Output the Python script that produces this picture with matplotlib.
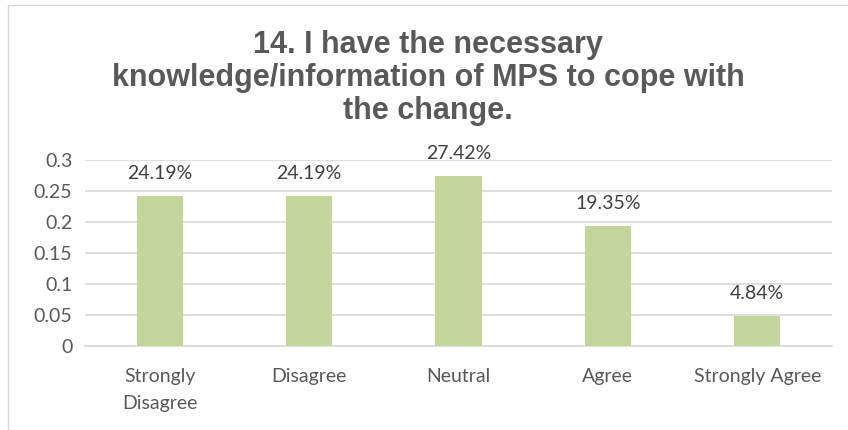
import matplotlib
matplotlib.use("Agg")
import matplotlib.pyplot as plt
from matplotlib.patches import Rectangle

categories = ["Strongly\nDisagree", "Disagree", "Neutral", "Agree", "Strongly Agree"]
values = [0.2419, 0.2419, 0.2742, 0.1935, 0.0484]
value_labels = ["24.19%", "24.19%", "27.42%", "19.35%", "4.84%"]
yticks = [0, 0.05, 0.1, 0.15, 0.2, 0.25, 0.3]
ytick_labels = ["0", "0.05", "0.1", "0.15", "0.2", "0.25", "0.3"]
title = "14. I have the necessary\nknowledge/information of MPS to cope with\nthe change."

text_color = "#595959"
grid_color = "#D9D9D9"
bar_color = "#C3D69B"
label_font = ["Lato", "DejaVu Sans"]

fig = plt.figure(figsize=(8.48, 4.30), dpi=100)
fig.patches.append(Rectangle((8 / 848, 0), 1, 1 - 5 / 430, transform=fig.transFigure,
                             fill=False, edgecolor=grid_color, linewidth=1.0))

ax = fig.add_axes([85 / 848, (430 - 346) / 430, (832 - 85) / 848, (346 - 160) / 430])
x = list(range(len(categories)))
bars = ax.bar(x, values, width=0.31, color=bar_color, zorder=3)

for b, lab in zip(bars, value_labels):
    ax.annotate(lab, (b.get_x() + b.get_width() / 2, b.get_height()),
                xytext=(0, 10), textcoords="offset points", ha="center", va="bottom",
                fontsize=14, color="#404040", family=label_font, annotation_clip=False)

ax.set_xlim(-0.5, len(categories) - 0.5)
ax.set_ylim(0, 0.3)
ax.set_yticks(yticks)
ax.set_yticklabels(ytick_labels)
ax.set_xticks(x)
ax.set_xticklabels(categories)
ax.yaxis.grid(True, color=grid_color, linewidth=1.2, zorder=0)
for s in ["top", "right", "left"]:
    ax.spines[s].set_visible(False)
ax.spines["bottom"].set_color(grid_color)
ax.spines["bottom"].set_linewidth(1.2)
ax.tick_params(axis="both", length=0, colors=text_color, labelsize=14)
ax.tick_params(axis="x", pad=16)
ax.tick_params(axis="y", pad=9)
for t in ax.get_xticklabels() + ax.get_yticklabels():
    t.set_family(label_font)
    t.set_color(text_color)
for t in ax.get_xticklabels():
    t.set_linespacing(1.7)

fig.text(0.505, 1 - 78 / 430, title, ha="center", va="center", fontsize=22,
         fontweight="bold", color=text_color, linespacing=1.12,
         family=["Liberation Sans", "DejaVu Sans"])

fig.savefig("out.png", dpi=100)
